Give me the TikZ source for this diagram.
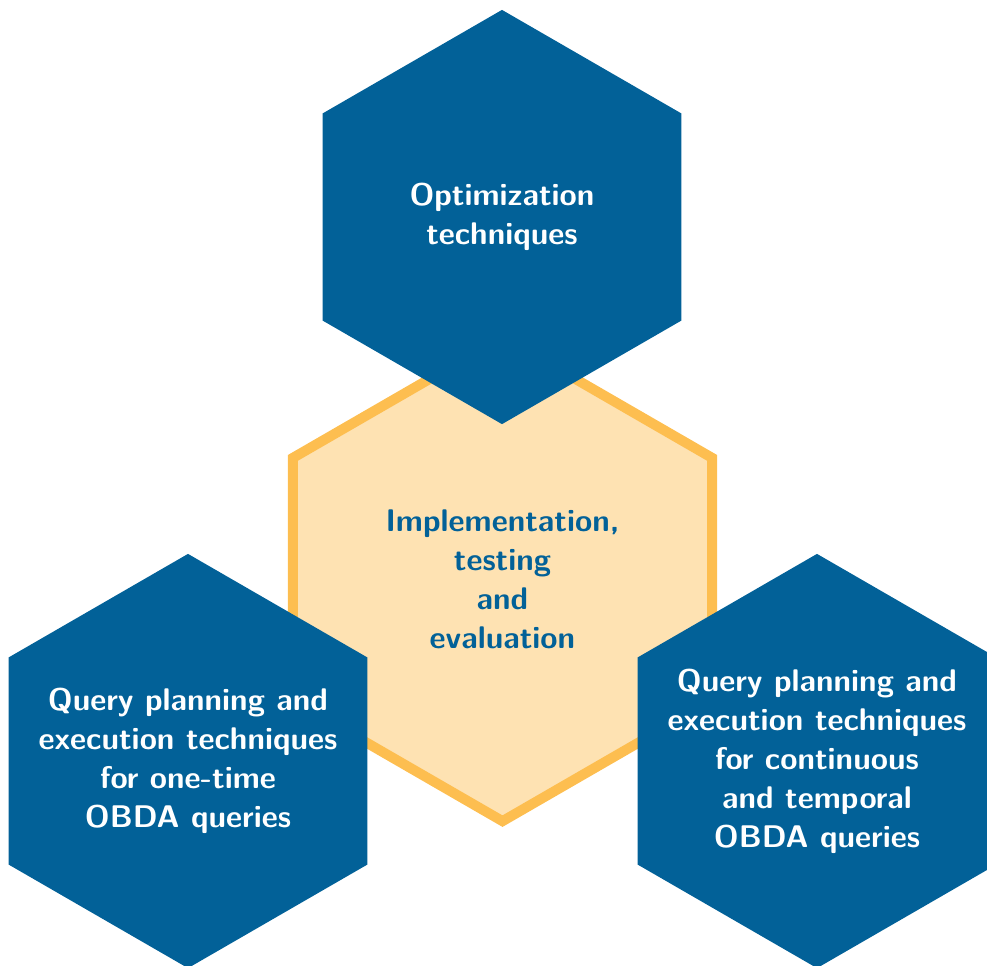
\documentclass[tikz,border=0pt]{standalone}
\usepackage{fontspec}
\usetikzlibrary{shapes.geometric}
\definecolor{hexblue}{RGB}{2,97,152}
\definecolor{hexgold}{RGB}{253,190,80}
\definecolor{hexcream}{RGB}{254,226,178}
\tikzset{
	hexa/.style={regular polygon, regular polygon sides=6, shape border rotate=30, inner sep=0pt, outer sep=0pt},
	bluehex/.style={hexa, fill=hexblue, draw=none, minimum size=4.14cm},
	creamhex/.style={hexa, fill=hexcream, draw=hexgold, line width=0.1cm, minimum size=4.84cm},
	hextext/.style={align=center, font=\fontsize{8.9}{11.1}\selectfont\sffamily\bfseries}
}
\begin{document}
\begin{tikzpicture}[x=0.01cm,y=-0.01cm]
	\useasboundingbox (0,0) rectangle (987,966);
	\node[creamhex] (impl) at (502.5,579) {};
	\node[bluehex] (opt) at (502,217) {};
	\node[bluehex] (once) at (188,761) {};
	\node[bluehex] (cont) at (817,761) {};
	\node[hextext, text=hexblue] (impl-t) at (impl) {Implementation,\\testing\\and\\evaluation};
	\node[hextext, text=white] (opt-t) at (opt) {Optimization\\techniques};
	\node[hextext, text=white] (once-t) at (once) {Query planning and\\execution techniques\\for one-time\\OBDA queries};
	\node[hextext, text=white] (cont-t) at (cont) {Query planning and\\execution techniques\\for continuous\\and temporal\\OBDA queries};
\end{tikzpicture}
\end{document}
